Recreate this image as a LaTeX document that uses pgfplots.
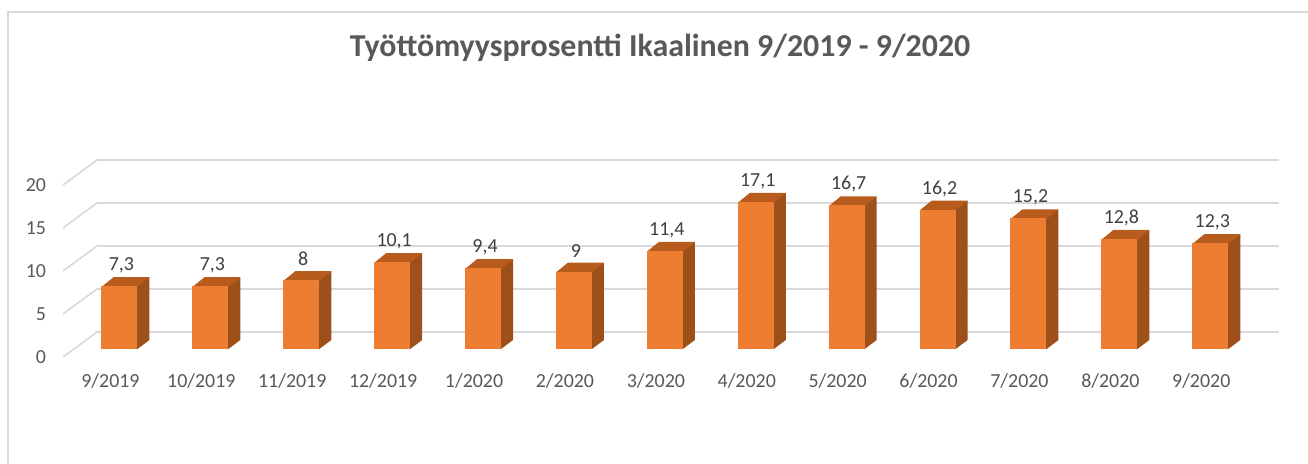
\documentclass[border=0pt]{standalone}
\usepackage{pgfplots}
\pgfplotsset{compat=1.18}
\usepackage{fontspec}
\setmainfont{Carlito}

\definecolor{barfront}{RGB}{237,125,49}
\definecolor{barside}{RGB}{158,80,26}
\definecolor{bartop}{RGB}{184,92,30}
\definecolor{gridgray}{RGB}{217,217,217}
\definecolor{txtgray}{RGB}{89,89,89}
\definecolor{valgray}{RGB}{64,64,64}
\definecolor{framegray}{RGB}{217,217,217}

% 3D box mark: origin sits at (i, value) on the front plane
\pgfdeclareplotmark{box3d}{%
  \pgfmathsetlengthmacro\bh{\rawy*4.3bp}%
  % side face (drawn first, slightly under the front face to avoid a seam)
  \pgfsetfillcolor{barside}%
  \pgfpathmoveto{\pgfpoint{14bp}{-\bh+4bp}}%
  \pgfpathlineto{\pgfpoint{14.5bp}{-\bh+4bp}}%
  \pgfpathlineto{\pgfpoint{20.5bp}{-\bh+8.5bp}}%
  \pgfpathlineto{\pgfpoint{20.5bp}{8.5bp}}%
  \pgfpathlineto{\pgfpoint{14bp}{4bp}}%
  \pgfpathclose
  \pgfusepath{fill}%
  % top face
  \pgfsetfillcolor{bartop}%
  \pgfpathmoveto{\pgfpoint{-3.5bp}{3.6bp}}%
  \pgfpathlineto{\pgfpoint{14.5bp}{3.6bp}}%
  \pgfpathlineto{\pgfpoint{20.5bp}{8.5bp}}%
  \pgfpathlineto{\pgfpoint{2.5bp}{8.5bp}}%
  \pgfpathclose
  \pgfusepath{fill}%
  % front face
  \pgfsetfillcolor{barfront}%
  \pgfpathrectangle{\pgfpoint{-3.5bp}{-\bh+4bp}}{\pgfpoint{18bp}{\bh}}%
  \pgfusepath{fill}%
}

\pgfplotstableread{
x  y
0  7.3
1  7.3
2  8
3  10.1
4  9.4
5  9
6  11.4
7  17.1
8  16.7
9  16.2
10 15.2
11 12.8
12 12.3
}\rates

\begin{document}
\begin{tikzpicture}
\begin{scope}[x=0.5bp, y=-0.5bp]
\useasboundingbox (0,0) rectangle (1308,464);
\fill[white] (0,0) rectangle (1308,464);
\draw[framegray, line width=1.2bp] (8,464) -- (8,12) -- (1308,12);
\node[font=\bfseries\fontsize{16}{19}\selectfont, text=txtgray] at (660,48)
  {Työttömyysprosentti Ikaalinen 9/2019 - 9/2020};
\end{scope}

\begin{axis}[
    at={(31.5bp,-178.5bp)}, anchor=south west,
    x=45.45bp, y=4.3bp,
    xmin=-0.5, xmax=12.5, ymin=0, ymax=20,
    clip=false,
    axis line style={draw=none},
    major tick length=0pt,
    xtick={0,...,12},
    xticklabels={9/2019,10/2019,11/2019,12/2019,1/2020,2/2020,3/2020,4/2020,5/2020,6/2020,7/2020,8/2020,9/2020},
    ytick={0,5,10,15,20},
    tick label style={font=\fontsize{10}{12}\selectfont, text=txtgray},
    xticklabel style={anchor=base, yshift=-15bp, xshift=1bp},
    yticklabel style={anchor=east, xshift=-5bp},
    /pgf/number format/assume math mode=true,
]
% back wall grid with its floor-side slope
\foreach \g in {0,5,10,15,20}{
  \edef\temp{\noexpand\draw[gridgray, line width=0.8bp]
    (axis cs:-0.5,\g) -- ([shift={(17bp,12.5bp)}]axis cs:-0.5,\g)
    -- ([shift={(17bp,12.5bp)}]axis cs:12.5,\g);}
  \temp
}
% the 3D columns
\addplot[scatter, only marks, mark=box3d,
    scatter/use mapped color={draw=none, fill=none},
    visualization depends on={rawy \as \rawy}]
  table[x=x, y=y] {\rates};
% value labels
\addplot[draw=none, mark=none,
    nodes near coords,
    /pgf/number format/use comma, /pgf/number format/fixed,
    every node near coord/.append style={anchor=center, xshift=6.5bp, yshift=14.5bp,
        font=\fontsize{10}{12}\selectfont, text=valgray}]
  table[x=x, y=y] {\rates};
\end{axis}
\end{tikzpicture}
\end{document}
